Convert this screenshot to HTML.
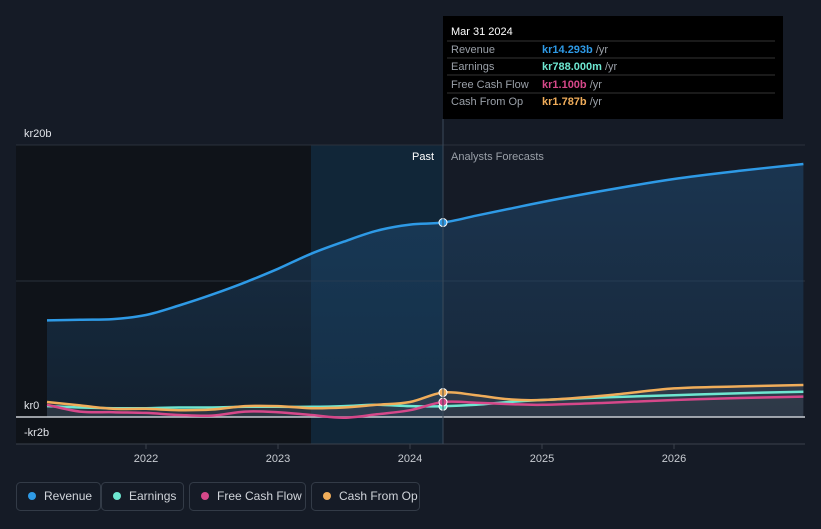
<!DOCTYPE html>
<html><head><meta charset="utf-8"><style>
body{margin:0;background:#151b26;font-family:"Liberation Sans",sans-serif;}
svg text{font-family:"Liberation Sans",sans-serif;}
</style></head><body>
<svg width="821" height="524">
<defs>
<linearGradient id="rg" x1="0" y1="0" x2="0" y2="1"><stop offset="0" stop-color="#1f4a72" stop-opacity="0.55"/><stop offset="1" stop-color="#1f4a72" stop-opacity="0.25"/></linearGradient>
</defs>
<rect x="0" y="0" width="821" height="524" fill="#151b26"/>
<rect x="16" y="145" width="295" height="299" fill="#0f1319"/>
<rect x="311" y="145" width="132" height="299" fill="#112638"/>
<g id="grid"></g>
<g id="marks"></g>
<g id="axes"></g>
<text x="412" y="160" fill="#ffffff" font-size="11">Past</text>
<text x="451" y="160" fill="#9aa0a8" font-size="11">Analysts Forecasts</text>
<g>
<rect x="443" y="16" width="340" height="103" fill="#000"/>
<text x="451" y="35" fill="#fff" font-size="11">Mar 31 2024</text>
<line x1="447" y1="41" x2="775" y2="41" stroke="#333"/>
<text x="451" y="53" fill="#9aa0a8" font-size="11">Revenue</text><text x="542" y="53" fill="#2e9ae6" font-size="11" font-weight="bold">kr14.293b <tspan fill="#9aa0a8" font-weight="normal">/yr</tspan></text>
<line x1="447" y1="58" x2="775" y2="58" stroke="#333"/>
<text x="451" y="70" fill="#9aa0a8" font-size="11">Earnings</text><text x="542" y="70" fill="#6ee7d1" font-size="11" font-weight="bold">kr788.000m <tspan fill="#9aa0a8" font-weight="normal">/yr</tspan></text>
<line x1="447" y1="75" x2="775" y2="75" stroke="#333"/>
<text x="451" y="88" fill="#9aa0a8" font-size="11">Free Cash Flow</text><text x="542" y="88" fill="#d6488a" font-size="11" font-weight="bold">kr1.100b <tspan fill="#9aa0a8" font-weight="normal">/yr</tspan></text>
<line x1="447" y1="93" x2="775" y2="93" stroke="#333"/>
<text x="451" y="105" fill="#9aa0a8" font-size="11">Cash From Op</text><text x="542" y="105" fill="#f0ad5a" font-size="11" font-weight="bold">kr1.787b <tspan fill="#9aa0a8" font-weight="normal">/yr</tspan></text>
</g>
<line x1="443" y1="119" x2="443" y2="444" stroke="#3a4a5a"/>
<g>
<rect x="16.5" y="482.5" width="84" height="28" rx="4" fill="none" stroke="#333b47"/>
<circle cx="32" cy="496" r="4" fill="#2e9ae6"/><text x="44" y="500" fill="#d0d4da" font-size="12">Revenue</text>
<rect x="101.5" y="482.5" width="82" height="28" rx="4" fill="none" stroke="#333b47"/>
<circle cx="117" cy="496" r="4" fill="#6ee7d1"/><text x="129" y="500" fill="#d0d4da" font-size="12">Earnings</text>
<rect x="189.5" y="482.5" width="116" height="28" rx="4" fill="none" stroke="#333b47"/>
<circle cx="205" cy="496" r="4" fill="#d6488a"/><text x="217" y="500" fill="#d0d4da" font-size="12">Free Cash Flow</text>
<rect x="311.5" y="482.5" width="108" height="28" rx="4" fill="none" stroke="#333b47"/>
<circle cx="327" cy="496" r="4" fill="#f0ad5a"/><text x="339" y="500" fill="#d0d4da" font-size="12">Cash From Op</text>
</g>
</svg>
<script>
const years=[2021.25,2021.5,2021.75,2022,2022.25,2022.5,2022.75,2023,2023.25,2023.5,2023.75,2024,2024.25,2024.5,2024.75,2025,2025.5,2026,2026.5,2026.98];
const revenue=[7.1,7.15,7.2,7.5,8.2,9.0,9.9,10.9,12.0,12.9,13.7,14.15,14.3,14.8,15.3,15.8,16.7,17.5,18.1,18.6];
const earnings=[0.8,0.7,0.65,0.65,0.7,0.7,0.75,0.75,0.75,0.8,0.9,0.8,0.79,0.9,1.1,1.25,1.45,1.6,1.75,1.85];
const fcf=[0.9,0.4,0.35,0.3,0.15,0.1,0.4,0.35,0.15,-0.05,0.2,0.5,1.1,1.05,0.95,0.9,1.05,1.25,1.4,1.5];
const cfo=[1.1,0.85,0.6,0.6,0.5,0.55,0.8,0.8,0.65,0.7,0.9,1.1,1.8,1.6,1.3,1.25,1.6,2.1,2.25,2.35];
const yTicks=[20,10,0,-2];const yLabels=["kr20b","","kr0","-kr2b"];
const xTicks=[2022,2023,2024,2025,2026];
const X=t=>146+(t-2022)*132, Y=v=>417-v*13.6;
const NS="http://www.w3.org/2000/svg";
function mk(tag,attrs,parent){const e=document.createElementNS(NS,tag);for(const k in attrs)e.setAttribute(k,attrs[k]);document.getElementById(parent).appendChild(e);return e;}
yTicks.forEach((v,i)=>{
 if(v===-2){const l=mk('line',{x1:16,x2:805,y1:444,y2:444,stroke:'#3a414c'},'axes');}
 else if(v===0){}
 else{const g=mk('line',{x1:16,x2:805,y1:Y(v),y2:Y(v),stroke:'#2a313c'},'grid');}
 if(yLabels[i]){const t=mk('text',{x:24,y:v===-2?436:Y(v)-8,fill:'#e0e3e8','font-size':11},'axes');t.textContent=yLabels[i];}
});
xTicks.forEach(t=>{const l=mk('line',{x1:X(t),x2:X(t),y1:444,y2:449,stroke:'#3a414c'},'axes');
 const tx=mk('text',{x:X(t),y:462,fill:'#c8ccd2','font-size':11,'text-anchor':'middle'},'axes');tx.textContent=t;});
function path(arr){const p=arr.map((v,i)=>[X(years[i]),Y(v)]);let d='M'+p[0][0].toFixed(1)+','+p[0][1].toFixed(1);
 for(let i=0;i<p.length-1;i++){const p0=p[Math.max(0,i-1)],p1=p[i],p2=p[i+1],p3=p[Math.min(p.length-1,i+2)];
  const c1=[p1[0]+(p2[0]-p0[0])/6,p1[1]+(p2[1]-p0[1])/6],c2=[p2[0]-(p3[0]-p1[0])/6,p2[1]-(p3[1]-p1[1])/6];
  d+='C'+c1.map(n=>n.toFixed(1))+' '+c2.map(n=>n.toFixed(1))+' '+p2.map(n=>n.toFixed(1));}
 return d;}
const x0=X(years[0]),x1=X(years[years.length-1]);
const area=mk('path',{d:path(revenue)+'L'+x1+','+Y(0)+'L'+x0+','+Y(0)+'Z',fill:'url(#rg)'},'marks');

const ea=mk('path',{d:path(cfo)+'L'+x1+','+Y(0)+'L'+x0+','+Y(0)+'Z',fill:'#4a4f5a',opacity:0.45},'marks');

const zl=mk('line',{x1:16,x2:805,y1:417,y2:417,stroke:'#c8ccd2','stroke-width':1.5},'marks');
const series=[[revenue,'#2e9ae6','revenue-line'],[earnings,'#6ee7d1','earnings-line'],[fcf,'#d6488a','fcf-line'],[cfo,'#f0ad5a','cfo-line']];
series.forEach(([arr,c,n])=>{const p=mk('path',{d:path(arr),fill:'none',stroke:c,'stroke-width':2.5,'stroke-linejoin':'round'},'marks');
 const i=years.indexOf(2024.25);const d=mk('circle',{cx:X(2024.25),cy:Y(arr[i]),r:4,fill:c,stroke:'#fff','stroke-width':1},'marks');});
</script>
</body></html>
